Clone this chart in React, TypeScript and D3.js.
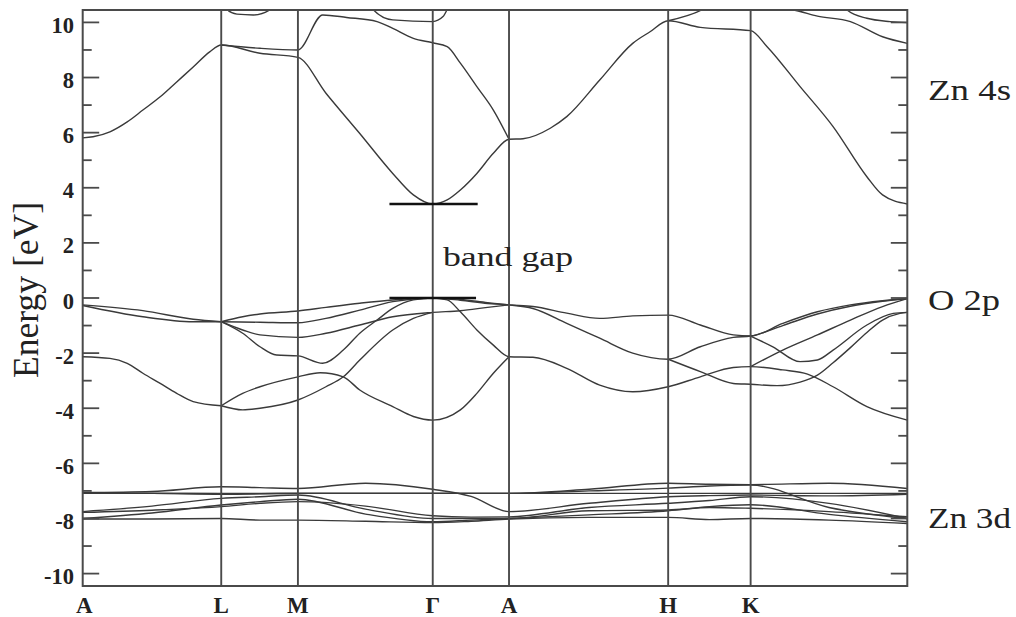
import React from "react";
import * as d3 from "d3";

type Pt = [number, number];

// High-symmetry points along the k-path (normalised path length)
const kPointLabels = ["A", "L", "M", "Γ", "A", "H", "K"];
const kPointPositions = [0, 0.168, 0.261, 0.4245, 0.517, 0.71, 0.81];
const kPathEnd = 1.0;

// Energy axis
const energyRange: [number, number] = [-10.45, 10.45];
const energyMajorTicks = [-10, -8, -6, -4, -2, 0, 2, 4, 6, 8, 10];
const energyMinorTicks = [-9, -7, -5, -3, -1, 1, 3, 5, 7, 9];

// Conduction bands (Zn 4s) [k, E]
const cbLowest: Pt[] = [
  [0, 5.81], [0.0125, 5.85], [0.033, 6.03], [0.054, 6.39], [0.073, 6.82], [0.094, 7.3],
  [0.114, 7.84], [0.134, 8.38], [0.154, 8.93], [0.168, 9.18], [0.215, 8.88], [0.261, 8.73],
  [0.295, 7.43], [0.336, 5.97], [0.376, 4.52], [0.401, 3.74], [0.4245, 3.41], [0.442, 3.56],
  [0.458, 3.92], [0.478, 4.52], [0.498, 5.25], [0.517, 5.76], [0.534, 5.78], [0.567, 6.16],
  [0.587, 6.58], [0.627, 7.91], [0.667, 9.24], [0.688, 9.66], [0.71, 10.06], [0.749, 9.82],
  [0.81, 9.7], [0.83, 9.12], [0.87, 7.67], [0.91, 6.22], [0.951, 4.4], [0.97, 3.74], [1, 3.41],
];
const cbSecond: Pt[] = [
  [0.168, 9.18], [0.215, 9.06], [0.261, 9.0], [0.291, 10.27], [0.32, 10.18], [0.357, 10.03],
  [0.376, 9.78], [0.401, 9.42], [0.4245, 9.26], [0.442, 9.12], [0.458, 8.52], [0.478, 7.67],
  [0.498, 6.82], [0.517, 5.76],
];
const cbSecondH: Pt[] = [[0.71, 10.06], [0.752, 10.47], [0.77, 10.8]];
const cbTopLM: Pt[] = [[0.17, 10.7], [0.175, 10.47], [0.187, 10.3], [0.207, 10.27], [0.227, 10.45], [0.235, 10.7]];
const cbTopG: Pt[] = [[0.345, 10.8], [0.352, 10.47], [0.376, 10.09], [0.4245, 10.03], [0.437, 10.21], [0.442, 10.47], [0.447, 10.8]];
const cbTopKa: Pt[] = [[0.8, 10.7], [0.849, 10.5], [0.862, 10.45], [0.891, 10.23], [0.931, 10.03], [0.97, 9.48], [1, 9.24]];
const cbTopKb: Pt[] = [[0.92, 10.7], [0.927, 10.45], [0.951, 10.15], [0.979, 10.03], [1, 9.99]];

// Valence bands (O 2p)
const vbA1: Pt[] = [[0, -0.25], [0.073, -0.46], [0.134, -0.77], [0.168, -0.86]];
const vbA2: Pt[] = [[0, -0.27], [0.073, -0.68], [0.134, -0.86], [0.168, -0.86]];
const vbA3: Pt[] = [
  [0, -2.13], [0.033, -2.19], [0.054, -2.37], [0.073, -2.73], [0.094, -3.1], [0.114, -3.46],
  [0.134, -3.76], [0.168, -3.91],
];
const vbTop1: Pt[] = [
  [0.168, -0.86], [0.194, -0.68], [0.215, -0.58], [0.261, -0.47], [0.295, -0.34], [0.336, -0.19],
  [0.376, -0.07], [0.4245, 0], [0.458, -0.05], [0.491, -0.17], [0.517, -0.25], [0.546, -0.31],
  [0.587, -0.55], [0.627, -0.74], [0.667, -0.65], [0.71, -0.62], [0.749, -0.98], [0.789, -1.34],
  [0.81, -1.38], [0.849, -0.92], [0.891, -0.5], [0.931, -0.25], [0.97, -0.1], [1, -0.02],
];
const vbTop2: Pt[] = [
  [0.168, -0.86], [0.215, -0.88], [0.261, -0.9], [0.295, -0.74], [0.336, -0.44], [0.376, -0.13],
  [0.4245, 0], [0.458, -0.08], [0.491, -0.2], [0.517, -0.25], [0.546, -0.38], [0.587, -0.92],
  [0.627, -1.46], [0.667, -2.0], [0.71, -2.22], [0.749, -1.77], [0.789, -1.43], [0.81, -1.38],
  [0.849, -1.0], [0.891, -0.58], [0.931, -0.3], [0.97, -0.12], [1, -0.02],
];
const vbMid1: Pt[] = [
  [0.168, -0.86], [0.194, -1.16], [0.215, -1.34], [0.261, -1.43], [0.295, -1.28], [0.336, -0.98],
  [0.376, -0.68], [0.4245, -0.52], [0.458, -0.46], [0.491, -0.34], [0.517, -0.25],
];
const vbMid2: Pt[] = [
  [0.168, -0.86], [0.194, -1.28], [0.215, -1.77], [0.235, -2.07], [0.261, -2.1], [0.291, -2.37],
  [0.316, -1.89], [0.336, -1.28], [0.357, -0.8], [0.376, -0.38], [0.401, -0.07], [0.4245, 0],
  [0.442, -0.07], [0.458, -0.5], [0.478, -1.16], [0.498, -1.71], [0.517, -2.13], [0.546, -2.15],
  [0.587, -2.55], [0.627, -3.16], [0.667, -3.4], [0.71, -3.22], [0.749, -2.86], [0.789, -2.52],
  [0.81, -2.49], [0.849, -2.61], [0.879, -2.76], [0.91, -3.22], [0.951, -3.94], [1, -4.43],
];
const vbLow1: Pt[] = [
  [0.168, -3.91], [0.194, -3.46], [0.215, -3.22], [0.261, -2.86], [0.288, -2.71], [0.316, -2.86],
  [0.336, -3.34], [0.376, -3.94], [0.401, -4.3], [0.4245, -4.43], [0.458, -4.06], [0.478, -3.46],
  [0.498, -2.73], [0.517, -2.13],
];
const vbLow2: Pt[] = [
  [0.168, -3.91], [0.194, -4.06], [0.215, -4.0], [0.261, -3.7], [0.295, -3.22], [0.316, -2.86],
  [0.336, -2.25], [0.376, -1.16], [0.401, -0.74], [0.4245, -0.52],
];
const vbHK: Pt[] = [
  [0.71, -2.22], [0.749, -2.67], [0.789, -3.1], [0.81, -3.13], [0.842, -3.18], [0.87, -3.05],
  [0.891, -2.8], [0.91, -2.35], [0.931, -1.8], [0.951, -1.25], [0.97, -0.8], [0.991, -0.56], [1, -0.52],
];
const vbKG1: Pt[] = [
  [0.81, -1.38], [0.837, -1.77], [0.87, -2.31], [0.891, -2.25], [0.91, -1.89], [0.951, -0.98],
  [0.983, -0.56], [1, -0.52],
];
const vbKG2: Pt[] = [[0.81, -2.49], [0.849, -1.89], [0.891, -1.34], [0.931, -0.8], [0.97, -0.31], [1, -0.02]];

// Zn 3d bands: energies at these k nodes
const zn3dNodes = [0, 0.084, 0.168, 0.215, 0.261, 0.343, 0.4245, 0.471, 0.517, 0.614, 0.71, 0.76, 0.81, 0.905, 1];
const zn3dFlat = [-7.09, -7.09, -7.09, -7.09, -7.09, -7.09, -7.09, -7.09, -7.09, -7.09, -7.09, -7.09, -7.09, -7.09, -7.09];
const zn3dB2 = [-7.06, -7.02, -6.85, -6.88, -6.91, -6.72, -6.94, -7.2, -7.75, -7.45, -7.21, -7.17, -7.15, -7.18, -7.12];
const zn3dB3 = [-7.09, -7.09, -7.1, -7.1, -7.09, -7.09, -7.09, -7.09, -7.09, -6.94, -6.72, -6.76, -6.77, -6.72, -6.91];
const zn3dB4 = [-7.75, -7.55, -7.27, -7.21, -7.15, -7.66, -8.0, -8.0, -8.0, -7.72, -7.69, -7.6, -7.63, -7.75, -7.94];
const zn3dB5 = [-8.0, -7.8, -7.51, -7.39, -7.3, -7.84, -8.12, -8.06, -8.0, -7.87, -7.72, -7.57, -7.5, -7.85, -8.12];
const zn3dB6 = [-8.02, -8.02, -8.0, -8.06, -8.06, -8.1, -8.15, -8.1, -8.02, -7.96, -7.96, -8.04, -8.0, -8.06, -8.18];
const zn3dB7 = [-7.78, -7.7, -7.57, -7.45, -7.39, -7.55, -7.9, -7.95, -7.94, -7.6, -7.45, -7.35, -7.21, -7.45, -8.0];
const zn3dB8 = [-7.09, -7.09, -7.12, -7.1, -7.09, -7.09, -7.09, -7.09, -7.09, -7.0, -6.9, -6.82, -6.79, -7.6, -8.0];

// Band-gap markers: energy, k from, k to
const gapEnergies = [3.41, 0];
const gapFrom = [0.372, 0.372];
const gapTo = [0.479, 0.477];

const regionLabels = ["Zn 4s", "O 2p", "Zn 3d"];
const gapLabel = "band gap";
const yTitle = "Energy [eV]";

const conductionBands = [cbLowest, cbSecond, cbSecondH, cbTopLM, cbTopG, cbTopKa, cbTopKb];
const valenceBands = [vbA1, vbA2, vbA3, vbTop1, vbTop2, vbMid1, vbMid2, vbLow1, vbLow2, vbHK, vbKG1, vbKG2];
const zn3dBands = [zn3dFlat, zn3dB2, zn3dB3, zn3dB4, zn3dB5, zn3dB6, zn3dB7, zn3dB8];

export default function App() {
  const left = 82.7, right = 907.3, top = 10, bottom = 586;
  const x = d3.scaleLinear().domain([0, kPathEnd]).range([left, right]);
  const y = d3.scaleLinear().domain(energyRange).range([bottom, top]);
  const line = d3
    .line<Pt>()
    .x((d) => x(d[0]))
    .y((d) => y(d[1]))
    .curve(d3.curveMonotoneX);

  const zn3dPaths: Pt[][] = zn3dBands.map((vals) => vals.map((v, i) => [zn3dNodes[i], v] as Pt));
  const allBands = [...conductionBands, ...valenceBands, ...zn3dPaths];

  const serif = "'Liberation Serif', 'Times New Roman', Times, serif";
  const frame = "#4a4a4a";
  const bandColor = "#3a3a3a";

  const regionY = [100, 310, 528];

  return (
    <svg
      width={1016}
      height={617}
      style={{ position: "absolute", left: 0, top: 0, background: "#fff" }}
      fontFamily={serif}
    >
      <defs>
        <clipPath id="plotClip">
          <rect x={left} y={top} width={right - left} height={bottom - top} />
        </clipPath>
      </defs>

      {/* bands */}
      <g clipPath="url(#plotClip)" fill="none" stroke={bandColor} strokeWidth={1.4}>
        {allBands.map((b, i) => (
          <path key={i} d={line(b) || ""} />
        ))}
      </g>

      {/* high symmetry vertical lines */}
      <g stroke={frame} strokeWidth={1.9}>
        {kPointPositions.slice(1).map((k, i) => (
          <line key={i} x1={x(k)} x2={x(k)} y1={top} y2={bottom} />
        ))}
      </g>

      {/* band gap markers */}
      <g stroke="#111" strokeWidth={2.6}>
        {gapEnergies.map((e, i) => (
          <line key={i} x1={x(gapFrom[i])} x2={x(gapTo[i])} y1={y(e)} y2={y(e)} />
        ))}
      </g>

      {/* frame */}
      <rect x={left} y={top} width={right - left} height={bottom - top} fill="none" stroke={frame} strokeWidth={2} />

      {/* ticks */}
      <g stroke={frame} strokeWidth={1.8}>
        {energyMajorTicks.map((t) => (
          <g key={"M" + t}>
            <line x1={left} x2={left + 16.5} y1={y(t)} y2={y(t)} />
            <line x1={right} x2={right - 16.5} y1={y(t)} y2={y(t)} />
          </g>
        ))}
        {energyMinorTicks.map((t) => (
          <g key={"m" + t}>
            <line x1={left} x2={left + 9} y1={y(t)} y2={y(t)} />
            <line x1={right} x2={right - 9} y1={y(t)} y2={y(t)} />
          </g>
        ))}
      </g>

      {/* tick labels */}
      <g fontSize={22.5} fontWeight="bold" fill="#222" textAnchor="end">
        {energyMajorTicks.map((t) => (
          <text key={t} x={74} y={y(t) + 10.5}>
            {String(t)}
          </text>
        ))}
      </g>

      {/* k labels */}
      <g fontSize={23} fontWeight="bold" fill="#222" textAnchor="middle">
        {kPointLabels.map((l, i) => (
          <text key={i} x={x(kPointPositions[i]) + (i === 0 ? 1.5 : 0)} y={613}>
            {l}
          </text>
        ))}
      </g>

      {/* y title */}
      <text
        transform={`translate(38,290) rotate(-90)`}
        textAnchor="middle"
        fontSize={36}
        fill="#222"
        textLength={176}
        lengthAdjust="spacingAndGlyphs"
      >
        {yTitle}
      </text>

      {/* region labels */}
      <g fontSize={29} fill="#222">
        {regionLabels.map((l, i) => (
          <text key={l} x={928} y={regionY[i]} textLength={i === 1 ? 72 : 83} lengthAdjust="spacingAndGlyphs">
            {l}
          </text>
        ))}
      </g>

      <text x={443} y={266} fontSize={28} fill="#222" textLength={130} lengthAdjust="spacingAndGlyphs">
        {gapLabel}
      </text>
    </svg>
  );
}
